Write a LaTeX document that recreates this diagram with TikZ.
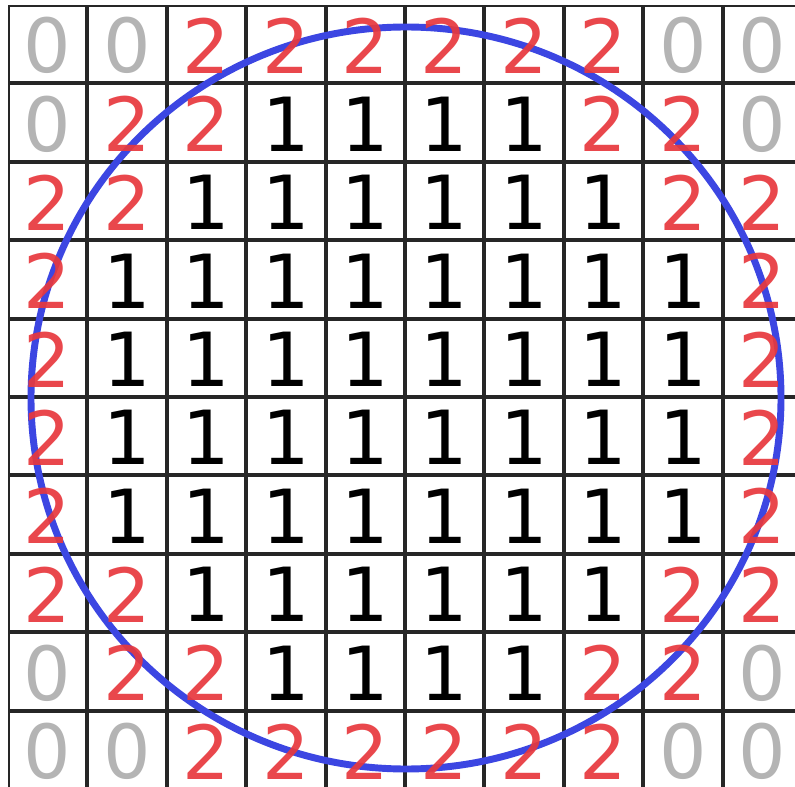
\documentclass[tikz,border=0pt]{standalone}
\usepackage{fontspec}
\setmainfont{DejaVu Sans}
\usetikzlibrary{calc}
\definecolor{czero}{HTML}{B4B4B4}
\definecolor{cone}{HTML}{000000}
\definecolor{ctwo}{HTML}{E8383D}
\definecolor{cring}{HTML}{3C46E2}
\newcommand{\cellw}{79.4}
\newcommand{\cellh}{78.4}

\begin{document}
\begin{tikzpicture}[
  x=0.75pt, y=-0.75pt,
  cell/.style={draw=black!85, line width=1.5pt, fill=white},
  digit/.style={font=\fontsize{56}{56}\selectfont, inner sep=0pt, anchor=center},
  ring/.style={draw=cring, line width=5.2pt},
]
\clip (0,0) rectangle (795,787);
\useasboundingbox (0,0) rectangle (795,787);
\fill[white] (0,0) rectangle (795,787);

% ------------------------------------------------------------ cells
\foreach \r in {0,...,9}{
  \foreach \c in {0,...,9}{
    \draw[cell] ({8+\cellw*\c+1},{5+\cellh*\r+1})
      rectangle ({8+\cellw*(\c+1)-1},{5+\cellh*(\r+1)-1});
    \coordinate (c-\r-\c) at ({8+\cellw*(\c+0.5)},{5+\cellh*(\r+0.5)+1.5});
  }
}

% ------------------------------------------------------------ ring
\draw[ring] (406,398) ellipse [x radius=375, y radius=371];

% ------------------------------------------------------------ values
\foreach \row [count=\r from 0] in {
  {0,0,2,2,2,2,2,2,0,0},
  {0,2,2,1,1,1,1,2,2,0},
  {2,2,1,1,1,1,1,1,2,2},
  {2,1,1,1,1,1,1,1,1,2},
  {2,1,1,1,1,1,1,1,1,2},
  {2,1,1,1,1,1,1,1,1,2},
  {2,1,1,1,1,1,1,1,1,2},
  {2,2,1,1,1,1,1,1,2,2},
  {0,2,2,1,1,1,1,2,2,0},
  {0,0,2,2,2,2,2,2,0,0}}{
  \foreach \v [count=\c from 0] in \row{
    \ifcase\v
      \node[digit, text=czero] (v-\r-\c) at (c-\r-\c) {0};
    \or
      \node[digit, text=cone] (v-\r-\c) at (c-\r-\c) {1};
    \or
      \node[digit, text=ctwo, opacity=0.92] (v-\r-\c) at (c-\r-\c) {2};
    \fi
  }
}
\end{tikzpicture}
\end{document}
